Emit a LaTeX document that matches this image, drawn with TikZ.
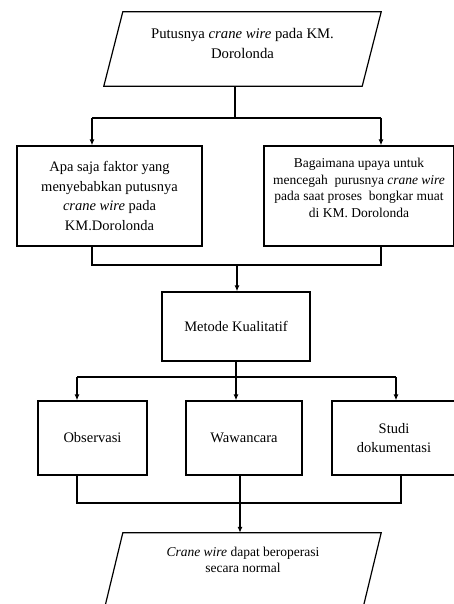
\documentclass[tikz,border=0pt]{standalone}
\usepackage{fontspec}
\setmainfont{Liberation Serif}
\usetikzlibrary{arrows.meta}
\begin{document}
\begin{tikzpicture}[x=1pt, y=-1pt,
    box/.style={draw, line width=1.2pt, align=center, inner sep=2pt, font=\fontsize{14.5}{19.5}\selectfont},
    io/.style={inner sep=0pt, minimum width=258pt, minimum height=74pt},
    line/.style={line width=1.2pt},
    flow/.style={line width=1.2pt, -{Latex[length=6pt,width=5pt]}}]
    \useasboundingbox (0,0) rectangle (453,604);

    % rumusan masalah
    \node[io, label={[align=center, yshift=6pt, font=\fontsize{14.7}{20}\selectfont]center:Putusnya \textit{crane wire} pada KM.\\Dorolonda}] (masalah) at (242.5,49) {};
    \draw[line] ([xshift=9.5pt]masalah.north west) -- ([xshift=9.5pt]masalah.north east)
        -- ([xshift=-9.5pt]masalah.south east) -- ([xshift=-9.5pt]masalah.south west) -- cycle;

    \node[box, minimum width=185pt, minimum height=100pt] (faktor) at (109.5,196) {Apa saja faktor yang\\menyebabkan putusnya\\\textit{crane wire} pada\\KM.Dorolonda};
    \node[box, minimum width=190pt, minimum height=100pt, label={[align=center, yshift=8pt, font=\fontsize{13.5}{16.5}\selectfont]center:Bagaimana upaya untuk\\mencegah\ \ purusnya \textit{crane wire}\\pada saat proses\ \ bongkar muat\\di KM. Dorolonda}] (upaya) at (359,196) {};

    \coordinate (s1) at (235,118);
    \coordinate (s1l) at (92,118);
    \coordinate (s1r) at (381,118);
    \draw[line] (masalah.south -| s1) -- (s1);
    \draw[line] (s1l) -- (s1r);
    \draw[flow] (s1l) -- (s1l |- faktor.north);
    \draw[flow] (s1r) -- (s1r |- upaya.north);

    % metode
    \node[box, minimum width=148pt, minimum height=69pt] (metode) at (236,326.5) {Metode Kualitatif};

    \coordinate (g1) at (237,265);
    \draw[line] (faktor.south -| s1l) |- (g1) -| (upaya.south -| s1r);
    \draw[flow] (g1) -- (g1 |- metode.north);

    \node[box, minimum width=109pt, minimum height=74pt] (obs) at (92.5,438) {Observasi};
    \node[box, minimum width=116pt, minimum height=74pt] (waw) at (244,438) {Wawancara};
    \node[box, minimum width=124pt, minimum height=74pt] (studi) at (394,438) {Studi\\dokumentasi};

    \coordinate (s2) at (236,377);
    \coordinate (s2l) at (77,377);
    \coordinate (s2r) at (396,377);
    \draw[line] (metode.south -| s2) -- (s2);
    \draw[line] (s2l) -- (s2r);
    \draw[flow] (s2l) -- (s2l |- obs.north);
    \draw[flow] (s2) -- (s2 |- waw.north);
    \draw[flow] (s2r) -- (s2r |- studi.north);

    % hasil
    \node[io, label={[align=center, yshift=10pt, font=\fontsize{13.5}{15.5}\selectfont]center:\textit{Crane wire} dapat beroperasi\\secara normal}] (hasil) at (243,570) {};
    \draw[line] ([xshift=9pt]hasil.north west) -- ([xshift=9pt]hasil.north east)
        -- ([xshift=-9pt]hasil.south east) -- ([xshift=-9pt]hasil.south west) -- cycle;

    \coordinate (g2) at (240,503);
    \coordinate (g2l) at (77,503);
    \coordinate (g2r) at (401,503);
    \draw[line] (obs.south -| g2l) -- (g2l) -- (g2r) -- (studi.south -| g2r);
    \draw[line] (waw.south -| g2) -- (g2);
    \draw[flow] (g2) -- (g2 |- hasil.north);
\end{tikzpicture}
\end{document}
